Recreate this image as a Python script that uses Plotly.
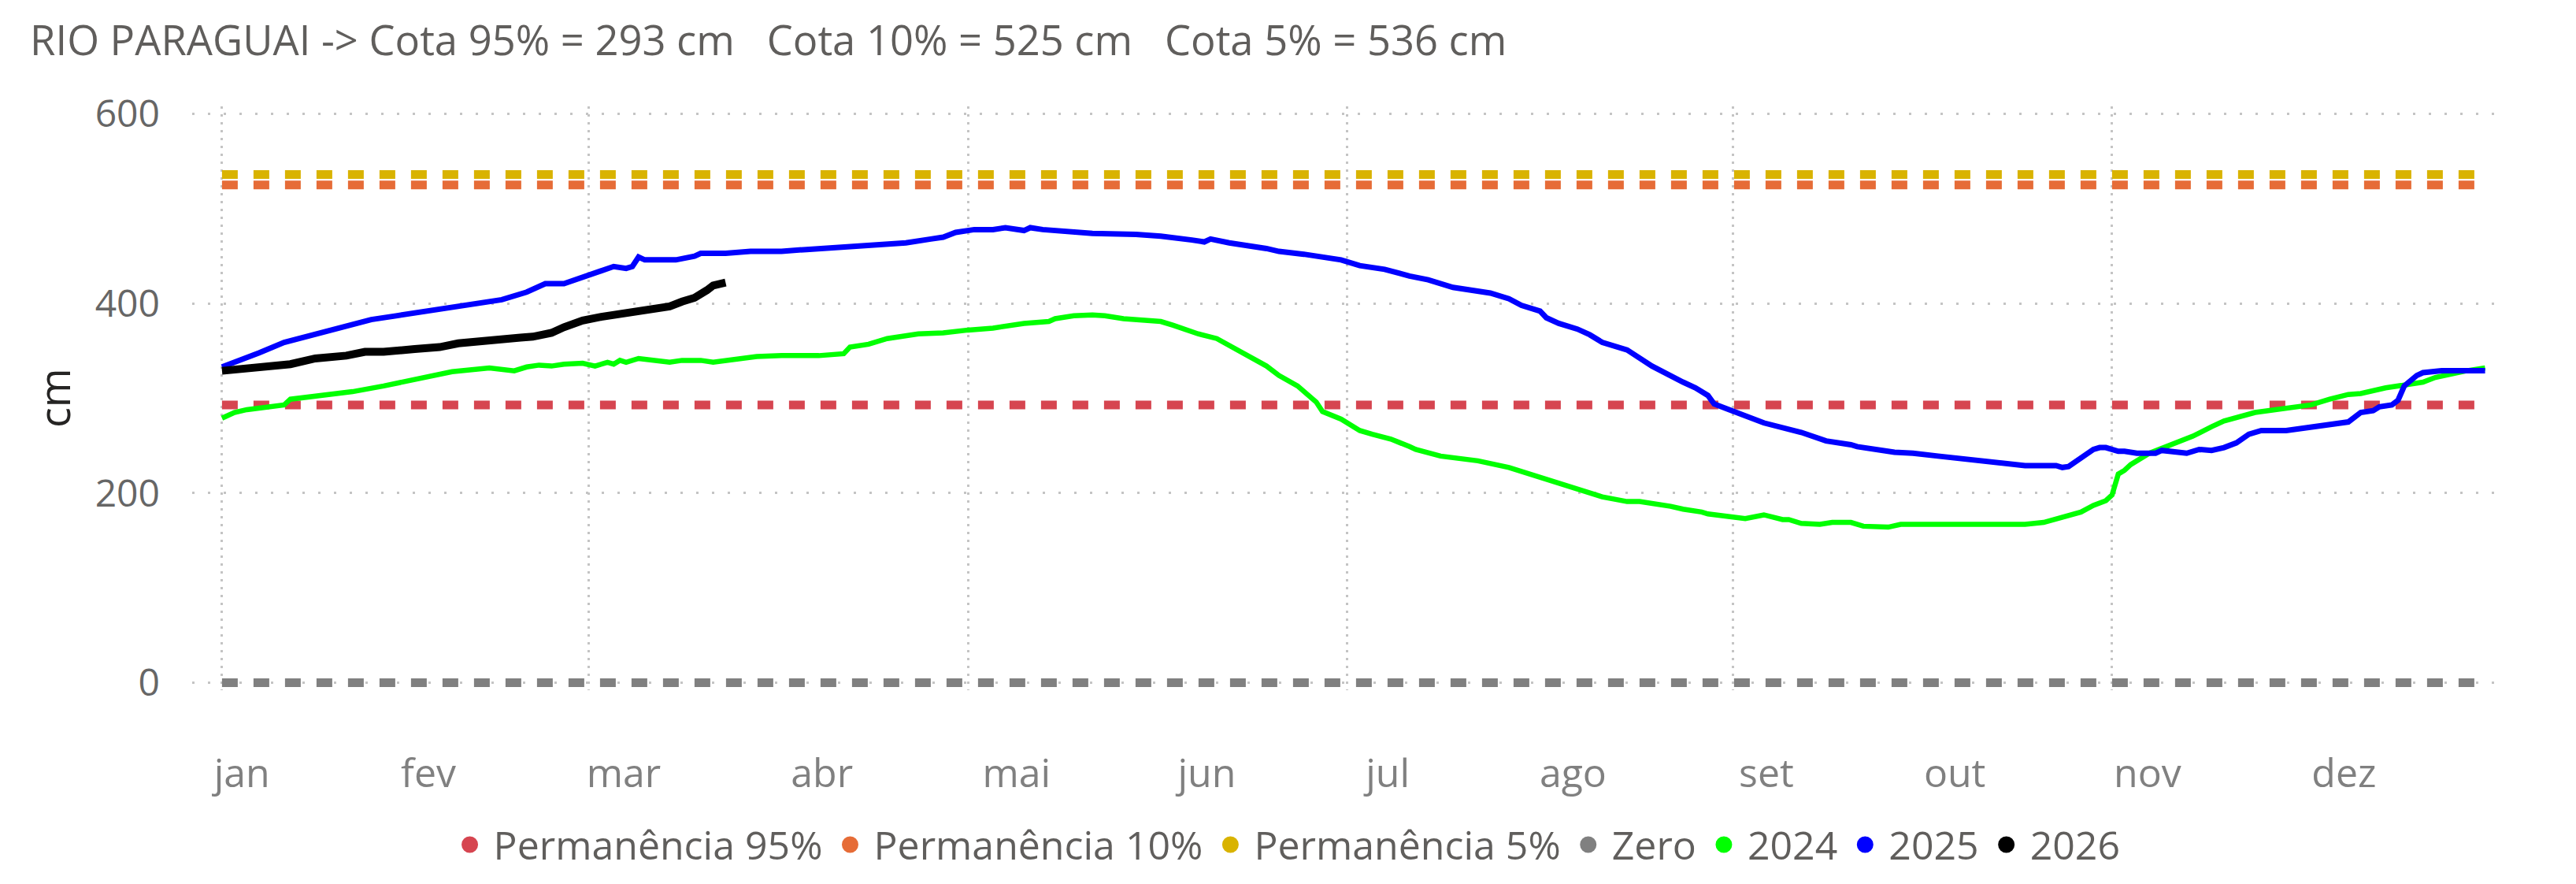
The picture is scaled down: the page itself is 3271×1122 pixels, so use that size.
import plotly.graph_objects as go

# ---------------- data (day of year, 0 = 1 jan) ----------------
MONTHS = ["jan", "fev", "mar", "abr", "mai", "jun", "jul", "ago", "set", "out", "nov", "dez"]
YEAR_DAYS = list(range(365))

COTA_95 = 293
COTA_10 = 525
COTA_5 = 536
ZERO = 0

DAYS_2024 = [0, 2, 4, 10, 11, 15, 21, 26, 31, 33, 37, 43, 47, 49, 51, 53, 55, 58, 60, 62, 63, 64, 65, 67, 72, 74,
             77, 79, 82, 86, 90, 96, 100, 101, 104, 107, 112, 116, 120, 124, 129, 133, 134, 137, 140, 142, 145,
             151, 153, 157, 160, 163, 166, 168, 170, 173, 176, 177, 180, 183, 185, 188, 191, 192, 196, 202, 207,
             211, 219, 222, 226, 228, 233, 235, 238, 239, 245, 246, 248, 251, 252, 254, 257, 259, 262, 264, 268,
             270, 276, 277, 280, 281, 287, 290, 293, 297, 299, 301, 303, 304, 305, 306, 307, 310, 314, 317, 320,
             322, 327, 332, 336, 339, 342, 344, 348, 354, 356, 361, 364]
VALS_2024 = [279, 285, 288, 293, 299, 302, 307, 313, 320, 323, 328, 332, 329, 333, 335, 334, 336, 337, 334, 338,
             336, 340, 338, 342, 338, 340, 340, 338, 340, 344, 345, 345, 347, 354, 357, 363, 368, 369, 372, 374,
             379, 381, 384, 387, 388, 387, 384, 381, 377, 368, 363, 352, 340, 334, 324, 313, 296, 286, 278, 266,
             262, 257, 249, 246, 239, 234, 227, 219, 203, 196, 191, 191, 186, 183, 180, 178, 173, 174, 177, 172,
             172, 168, 167, 169, 169, 165, 164, 167, 167, 168, 168, 167, 167, 167, 169, 176, 180, 187, 192, 198,
             220, 224, 230, 242, 253, 260, 270, 276, 285, 289, 293, 299, 304, 305, 311, 317, 322, 329, 332]

DAYS_2025 = [0, 2, 4, 6, 10, 14, 17, 20, 24, 28, 33, 36, 41, 45, 49, 52, 55, 58, 62, 63, 65, 66, 67, 68, 73, 76,
             77, 81, 85, 90, 94, 99, 103, 110, 114, 116, 118, 121, 124, 126, 129, 130, 132, 137, 140, 147, 151,
             156, 158, 159, 162, 168, 170, 174, 180, 183, 187, 191, 194, 198, 200, 204, 207, 209, 212, 213, 215,
             218, 220, 222, 226, 228, 230, 235, 237, 239, 240, 242, 245, 248, 254, 255, 258, 262, 263, 269, 272,
             276, 279, 283, 286, 290, 295, 296, 297, 299, 301, 302, 303, 305, 306, 308, 311, 312, 313, 316, 318,
             320, 322, 324, 326, 328, 332, 336, 342, 344, 346, 347, 349, 350, 351, 353, 354, 357, 360, 364]
VALS_2025 = [333, 338, 342, 348, 359, 366, 371, 376, 383, 387, 392, 394, 399, 404, 412, 421, 421, 428, 437, 439,
             437, 439, 449, 446, 446, 450, 453, 453, 455, 455, 457, 459, 461, 464, 468, 470, 475, 478, 478, 480,
             477, 480, 478, 475, 474, 473, 471, 467, 465, 468, 464, 458, 455, 452, 446, 440, 436, 429, 425, 417,
             415, 411, 405, 398, 392, 385, 379, 373, 367, 359, 351, 343, 334, 317, 311, 303, 294, 289, 281, 274,
             264, 262, 255, 251, 249, 243, 242, 239, 237, 234, 233, 229, 229, 227, 228, 237, 246, 248, 248, 244,
             244, 242, 242, 245, 244, 242, 246, 245, 248, 253, 262, 266, 266, 270, 275, 285, 287, 291, 293, 298,
             313, 324, 327, 329, 329, 329]

DAYS_2026 = [0, 3, 7, 9, 11, 15, 20, 23, 26, 31, 35, 38, 43, 48, 50, 53, 55, 58, 61, 64, 66, 68, 72, 74, 76, 78,
             79, 81]
VALS_2026 = [329, 331, 334, 334, 336, 342, 345, 349, 349, 352, 354, 358, 360, 364, 365, 369, 375, 382, 386, 389,
             391, 391, 397, 402, 406, 414, 419, 422]

# ---------------- style ----------------
FONT = "Open Sans"
GRID = "#C4C4C4"
LABEL_POS = [3.2, 33.2, 64.6, 96.5, 127.8, 158.4, 187.5, 217.3, 248.4, 278.7, 309.7, 341.3]
GRID_DAYS = [0, 59, 120, 181, 243, 304]

fig = go.Figure()

refs = [
    ("Permanência 95%", COTA_95, "#D64550"),
    ("Permanência 10%", COTA_10, "#E66C37"),
    ("Permanência 5%", COTA_5, "#D9B300"),
    ("Zero", ZERO, "#808080"),
]
series = [
    ("2024", DAYS_2024, VALS_2024, "#00FF00", 6.5),
    ("2025", DAYS_2025, VALS_2025, "#0000FF", 7),
    ("2026", DAYS_2026, VALS_2026, "#000000", 10),
]

for name, val, col in refs:
    fig.add_trace(go.Scatter(
        x=[YEAR_DAYS[0], YEAR_DAYS[-1]], y=[val, val], mode="lines",
        line=dict(color=col, width=11, dash="20px,20px"),
        name=name, legendgroup=name, showlegend=False, hoverinfo="skip"))

for name, xs, ys, col, w in series:
    fig.add_trace(go.Scatter(
        x=xs, y=ys, mode="lines", line=dict(color=col, width=w, shape="linear"),
        name=name, legendgroup=name, showlegend=False))

# legend entries (circles)
for name, _, col in refs:
    fig.add_trace(go.Scatter(x=[None], y=[None], mode="markers", name=name, legendgroup=name,
                             marker=dict(symbol="circle", size=16, color=col, line=dict(color=col, width=5))))
for name, _, _, col, _ in series:
    fig.add_trace(go.Scatter(x=[None], y=[None], mode="markers", name=name, legendgroup=name,
                             marker=dict(symbol="circle", size=16, color=col, line=dict(color=col, width=5))))

fig.update_layout(
    width=3271, height=1122,
    paper_bgcolor="white", plot_bgcolor="white",
    margin=dict(l=236, r=95, t=127, b=254),
    font=dict(family=FONT, color="#666666"),
    title=dict(
        text="RIO PARAGUAI -> Cota 95% = 293 cm   Cota 10% = 525 cm   Cota 5% = 536 cm",
        xref="container", yref="container", x=0.0092, y=0.9608, xanchor="left", yanchor="middle",
        font=dict(family=FONT, size=52.5, color="#605E5C")),
    showlegend=True,
    legend=dict(orientation="h", xref="container", yref="container", x=0.4965, y=0.0517,
                xanchor="center", yanchor="middle", font=dict(family=FONT, size=50, color="#605E5C"),
                itemwidth=50, traceorder="normal", bgcolor="rgba(0,0,0,0)"),
    xaxis=dict(
        range=[-4.8, 367.6], tickmode="array", tickvals=LABEL_POS, ticktext=MONTHS,
        showgrid=False, zeroline=False, showline=False, ticks="",
        tickfont=dict(family=FONT, size=50, color="#808080"), ticklabelstandoff=72,
        minor=dict(tickmode="array", tickvals=GRID_DAYS, showgrid=True, gridcolor=GRID,
                   gridwidth=3, griddash="3px,7px", ticks=""),
    ),
    yaxis=dict(
        range=[-8, 608], tickmode="array", tickvals=[0, 200, 400, 600],
        showgrid=True, gridcolor=GRID, gridwidth=3, griddash="3px,17px",
        zeroline=False, showline=False, ticks="",
        tickfont=dict(family=FONT, size=48, color="#666666"), ticklabelstandoff=40,
    ),
    annotations=[dict(
        text="cm", xref="paper", yref="paper", x=-0.0600, y=0.5, textangle=-90,
        showarrow=False, xanchor="center", yanchor="middle",
        font=dict(family=FONT, size=54, color="#252423"))],
)

fig.write_html("out.html")
